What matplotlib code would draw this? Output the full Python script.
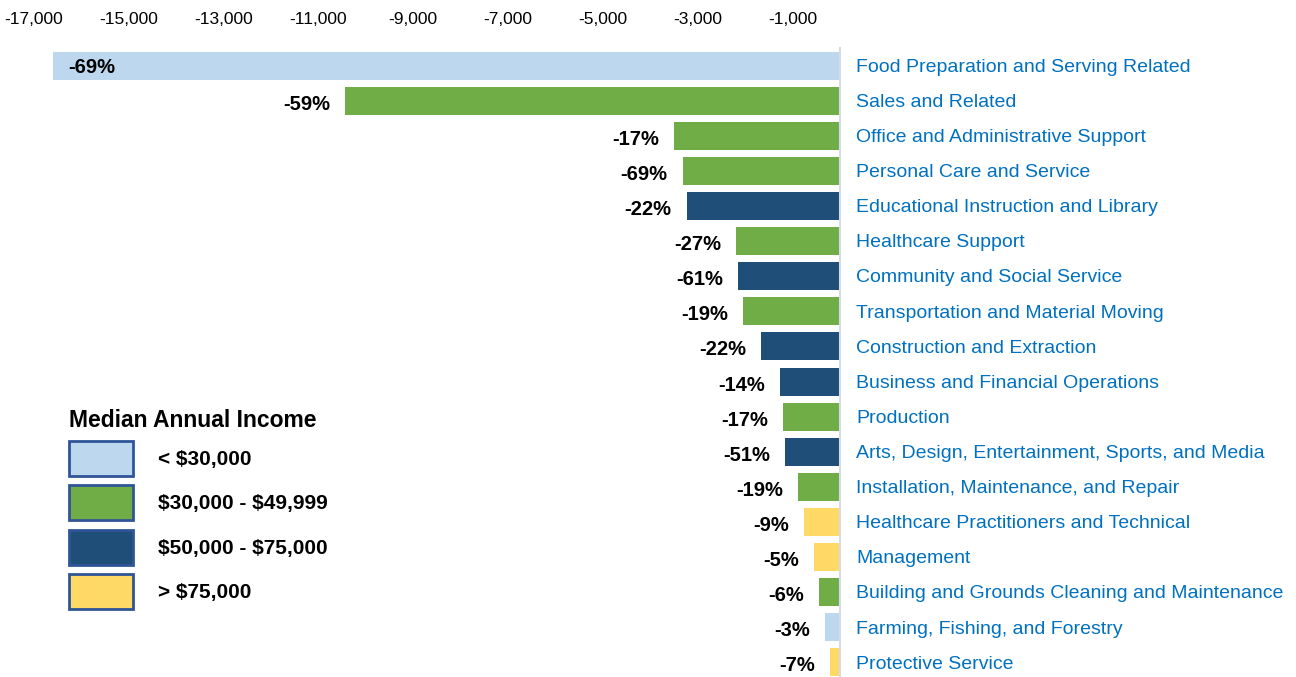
import matplotlib
matplotlib.use("Agg")
import matplotlib.pyplot as plt
from matplotlib.patches import Patch

plt.rcParams['font.family'] = ['Liberation Sans', 'DejaVu Sans']

# occupations, top to bottom
occupations = [
    "Food Preparation and Serving Related",
    "Sales and Related",
    "Office and Administrative Support",
    "Personal Care and Service",
    "Educational Instruction and Library",
    "Healthcare Support",
    "Community and Social Service",
    "Transportation and Material Moving",
    "Construction and Extraction",
    "Business and Financial Operations",
    "Production",
    "Arts, Design, Entertainment, Sports, and Media",
    "Installation, Maintenance, and Repair",
    "Healthcare Practitioners and Technical",
    "Management",
    "Building and Grounds Cleaning and Maintenance",
    "Farming, Fishing, and Forestry",
    "Protective Service",
]
job_change = [-16600, -10430, -3500, -3320, -3230, -2190, -2150, -2040,
              -1660, -1260, -1200, -1160, -880, -750, -540, -440, -320, -210]
pct_labels = ["-69%", "-59%", "-17%", "-69%", "-22%", "-27%", "-61%", "-19%",
              "-22%", "-14%", "-17%", "-51%", "-19%", "-9%", "-5%", "-6%", "-3%", "-7%"]
income_group = [0, 1, 1, 1, 2, 1, 2, 1, 2, 2, 1, 2, 1, 3, 3, 1, 0, 3]

group_names = [r"< \$30,000", r"\$30,000 - \$49,999", r"\$50,000 - \$75,000", r"> \$75,000"]
group_colors = ["#BDD7EE", "#70AD47", "#1F4E79", "#FFD966"]

fig = plt.figure(figsize=(12.96, 6.77), dpi=100)
ax = fig.add_axes([34 / 1296, -3 / 677, (840 - 34) / 1296, (677 - 48 + 3) / 677])

ypos = list(range(len(occupations)))
colors = [group_colors[g] for g in income_group]
ax.barh(ypos, job_change, height=0.8, color=colors, edgecolor='none')

ax.set_xlim(-17000, 0)
ax.set_ylim(len(occupations) - 0.5, -0.5)

# value labels
for y, v, lab in zip(ypos, job_change, pct_labels):
    if v < -15000:
        ax.text(v + 330, y + 0.05, lab, ha='left', va='center', fontsize=14.5,
                fontweight='bold', color='black')
    else:
        ax.text(v - 320, y + 0.1, lab, ha='right', va='center', fontsize=14.5,
                fontweight='bold', color='black')

# category names on the right of the axis line
for y, name in zip(ypos, occupations):
    ax.text(1.0 + 16 / 806, y + 0.05, name, transform=ax.get_yaxis_transform(),
            ha='left', va='center', fontsize=14, color='#0070C0')

ax.xaxis.tick_top()
ticks = list(range(-17000, 0, 2000))
ax.set_xticks(ticks)
ax.set_xticklabels(["{:,}".format(t) for t in ticks], fontsize=12.5)
ax.tick_params(axis='x', length=0, pad=15)
ax.set_yticks([])
for s in ['top', 'left', 'bottom']:
    ax.spines[s].set_visible(False)
ax.spines['right'].set_color('#D6DCE5')
ax.spines['right'].set_linewidth(1.5)

handles = [Patch(facecolor=c, edgecolor='#2F5597', linewidth=2) for c in group_colors]
leg = fig.legend(handles, group_names, loc='upper left', bbox_to_anchor=(50 / 1296, 1 - 390 / 677),
                 frameon=False, title="Median Annual Income",
                 prop={'size': 15, 'weight': 'bold'},
                 title_fontproperties={'size': 16.5, 'weight': 'bold'},
                 handlelength=3.1, handleheight=2.2, labelspacing=0.45,
                 handletextpad=1.2, alignment='left')

fig.savefig("out.png", dpi=100)
